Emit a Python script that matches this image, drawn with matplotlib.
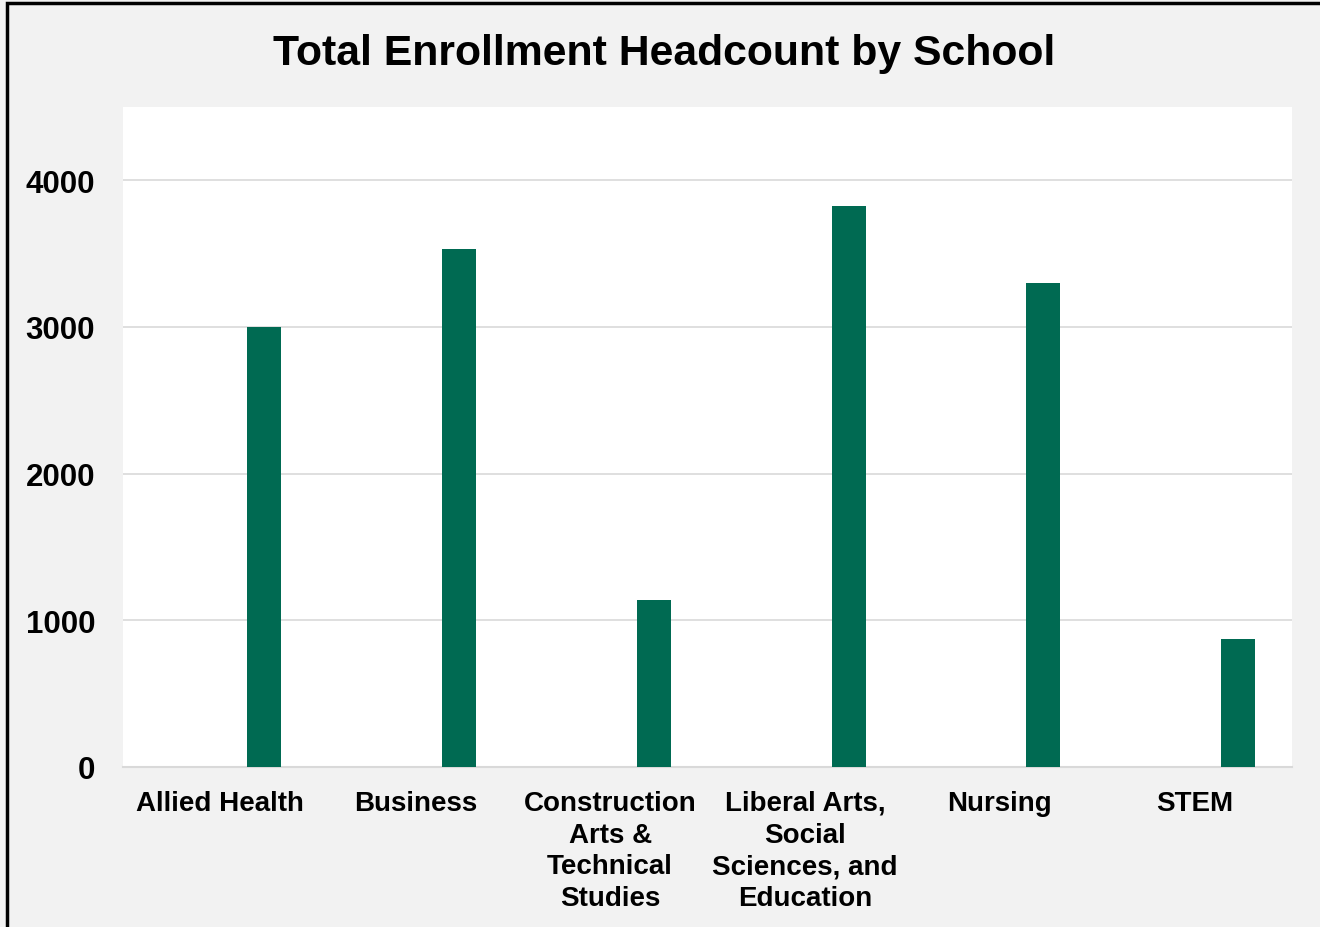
import matplotlib
matplotlib.use("Agg")
import matplotlib.pyplot as plt
from matplotlib.patches import Rectangle
import numpy as np

plt.rcParams['font.family'] = ['Liberation Sans', 'DejaVu Sans']

categories = ["Allied Health", "Business", "Construction\nArts &\nTechnical\nStudies",
              "Liberal Arts,\nSocial\nSciences, and\nEducation", "Nursing", "STEM"]
headcount = [3000, 3530, 1140, 3825, 3300, 875]
yticks = [0, 1000, 2000, 3000, 4000]

W, H = 1320, 928
fig = plt.figure(figsize=(W/100, H/100), dpi=100)
fig.patch.set_facecolor('#f2f2f2')

left, right, top, bottom = 123, 1292, 108, 768
ax = fig.add_axes([left/W, 1-bottom/H, (right-left)/W, (bottom-top)/H])
ax.set_facecolor('white')

x = np.arange(len(categories))
ax.bar(x + 0.224, headcount, width=0.175, color='#006A52', zorder=3)

ax.set_xlim(-0.5, len(categories)-0.5)
ax.set_ylim(0, 4500)
ax.set_yticks(yticks)
ax.set_yticklabels([str(v) for v in yticks], fontsize=22.5, fontweight='bold')
ax.set_xticks(x)
ax.set_xticklabels(categories, fontsize=20, fontweight='bold', linespacing=1.28)
ax.tick_params(axis='both', length=0)
ax.tick_params(axis='y', pad=20)
ax.tick_params(axis='x', pad=16.5)
ax.grid(axis='y', color='#d9d9d9', linewidth=1.2, zorder=0)
for s in ['top', 'right', 'left']:
    ax.spines[s].set_visible(False)
ax.spines['bottom'].set_color('#d9d9d9')
ax.spines['bottom'].set_linewidth(1.5)

fig.text(664/W, 1-50/H, "Total Enrollment Headcount by School", ha='center', va='center_baseline',
         fontsize=30.8, fontweight='bold')

fig.patches.append(Rectangle((7/W, -0.01), 1.02, 1 - 4/H + 0.01, transform=fig.transFigure,
                             fill=False, edgecolor='black', linewidth=2.5))

fig.savefig('out.png', dpi=100, facecolor=fig.get_facecolor())
